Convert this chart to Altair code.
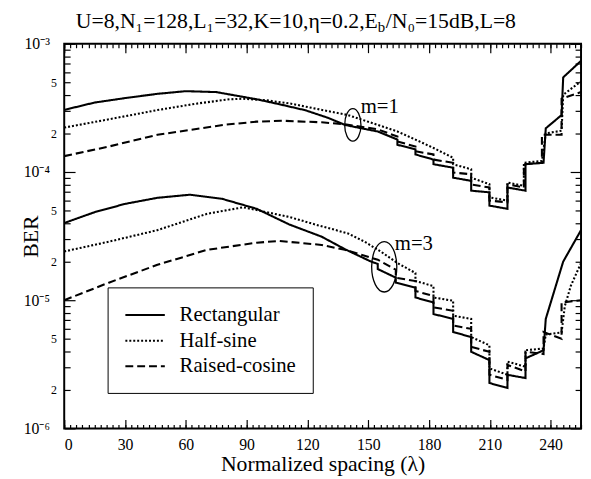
import altair as alt
import pandas as pd

FONT = "Liberation Serif"

# ---------------- data ----------------
SHAPES = ["Rectangular", "Half-sine", "Raised-cosine"]

# m = 1 group
RECT1_X = [0, 15, 30, 46, 60, 75, 95, 105, 119, 130, 138.5, 148, 154.7, 164.4, 164.4,
           173.3, 173.3, 182.2, 182.2, 191.9, 191.9, 200.8, 200.8, 209.8, 209.8, 218.7,
           218.7, 227.6, 227.6, 236.5, 237.6, 245.4, 246.2, 255]
RECT1_Y = [3.05e-4, 3.48e-4, 3.77e-4, 4.07e-4, 4.27e-4, 4.2e-4, 3.69e-4, 3.41e-4, 3.03e-4,
           2.65e-4, 2.33e-4, 2.17e-4, 2.07e-4, 1.79e-4, 1.63e-4, 1.50e-4, 1.37e-4, 1.25e-4,
           1.15e-4, 1.08e-4, 9.03e-5, 8.53e-5, 7.15e-5, 6.94e-5, 5.47e-5, 5.16e-5, 7.57e-5,
           7.15e-5, 1.15e-4, 1.18e-4, 2.19e-4, 2.78e-4, 5.47e-4, 7.36e-4]

HALF1_X = [0, 20, 46, 65, 81.6, 88, 100, 112, 124, 140, 154.7, 164.4, 173.3, 182.2, 191.9,
           191.9, 200.8, 200.8, 209.8, 209.8, 218.7, 218.7, 226.8, 226.8, 235.7, 237.6,
           245.4, 246.2, 255]
HALF1_Y = [2.22e-4, 2.54e-4, 3.04e-4, 3.41e-4, 3.69e-4, 3.73e-4, 3.62e-4, 3.41e-4, 3.12e-4,
           2.78e-4, 2.33e-4, 2.07e-4, 1.79e-4, 1.54e-4, 1.29e-4, 1.15e-4, 1.05e-4, 9.03e-5,
           8.03e-5, 6.34e-5, 5.98e-5, 8.28e-5, 7.8e-5, 1.18e-4, 1.22e-4, 2.0e-4, 2.1e-4,
           4.0e-4, 5.1e-4]

RC1_X = [0, 22, 46, 78.6, 95, 108, 127, 138.5, 154.7, 164.4, 164.4, 173.3, 173.3, 182.2,
         182.2, 191.9, 191.9, 200.8, 200.8, 209.8, 209.8, 218.7, 218.7, 226.8, 226.8, 235.7,
         235.7, 245.4, 245.4, 255]
RC1_Y = [1.33e-4, 1.58e-4, 1.95e-4, 2.33e-4, 2.47e-4, 2.51e-4, 2.44e-4, 2.36e-4, 2.15e-4,
         1.89e-4, 1.73e-4, 1.58e-4, 1.45e-4, 1.37e-4, 1.25e-4, 1.18e-4, 9.9e-5, 9.6e-5,
         8.0e-5, 7.57e-5, 5.98e-5, 5.8e-5, 8.0e-5, 7.57e-5, 1.15e-4, 1.18e-4, 1.95e-4,
         1.95e-4, 3.73e-4, 4.2e-4]

# m = 3 group
RECT3_X = [0, 15, 30, 46, 62, 78, 95, 111, 127, 138.5, 151.4, 154.7, 154.7, 163.6, 163.6,
           173.3, 173.3, 182.2, 182.2, 191.9, 191.9, 200.8, 200.8, 209.8, 209.8, 218.7,
           218.7, 227.6, 227.6, 236.5, 237.6, 246.2, 255]
RECT3_Y = [4.0e-5, 4.86e-5, 5.64e-5, 6.29e-5, 6.65e-5, 6.17e-5, 5.16e-5, 3.9e-5, 3.13e-5,
           2.5e-5, 2.0e-5, 1.92e-5, 1.75e-5, 1.5e-5, 1.37e-5, 1.25e-5, 1.05e-5, 9.6e-6,
           7.8e-6, 7.15e-6, 5.65e-6, 5.16e-6, 3.96e-6, 3.41e-6, 2.26e-6, 2.07e-6, 2.62e-6,
           2.47e-6, 3.52e-6, 4.07e-6, 7.15e-6, 2.0e-5, 3.52e-5]

HALF3_X = [0, 22, 46, 70.5, 88.3, 111, 125, 140, 148.2, 156.3, 164.4, 173.3, 173.3, 182.2,
           182.2, 191.9, 191.9, 200.8, 200.8, 209.8, 209.8, 218.7, 218.7, 227.6, 227.6,
           236.5, 237.6, 245.4, 247, 250, 255]
HALF3_Y = [2.4e-5, 2.86e-5, 3.52e-5, 4.72e-5, 5.31e-5, 4.46e-5, 3.85e-5, 3.32e-5, 2.86e-5,
           2.39e-5, 1.95e-5, 1.63e-5, 1.41e-5, 1.29e-5, 1.05e-5, 9.9e-6, 7.57e-6, 7.15e-6,
           5.16e-6, 4.45e-6, 2.94e-6, 2.62e-6, 3.32e-6, 3.03e-6, 4.07e-6, 4.2e-6, 5.4e-6,
           5.6e-6, 9.0e-6, 1.3e-5, 1.95e-5]

RC3_X = [0, 22, 46, 70.5, 95, 106, 127, 138.5, 154.7, 163.6, 163.6, 173.3, 173.3, 182.2,
         182.2, 191.9, 191.9, 200.8, 200.8, 209.8, 209.8, 218.7, 218.7, 227.6, 227.6, 236.5,
         236.5, 245.4, 245.4, 255]
RC3_Y = [1.0e-5, 1.37e-5, 1.89e-5, 2.47e-5, 2.81e-5, 2.9e-5, 2.7e-5, 2.47e-5, 2.07e-5,
         1.73e-5, 1.5e-5, 1.41e-5, 1.18e-5, 1.08e-5, 8.8e-6, 8.27e-6, 6.34e-6, 5.98e-6,
         4.32e-6, 3.96e-6, 2.62e-6, 2.39e-6, 3.13e-6, 2.78e-6, 3.96e-6, 3.8e-6, 5.65e-6,
         5.0e-6, 9.6e-6, 1.0e-5]

# annotations (data coordinates)
ANN_TEXT = ["m=1", "m=3"]
ANN_X = [146.3, 163.1]
ANN_Y = [2.86e-4, 2.47e-5]
ELL_X = [142.4, 157.9]
ELL_Y = [2.33e-4, 1.82e-5]

# axis ticks
X_LABELS = [0, 30, 60, 90, 120, 150, 180, 210, 240]
X_MINOR = list(range(0, 256, 3))
Y_DECADES = [1e-6, 1e-5, 1e-4, 1e-3]
Y_MIDS = [2e-6, 5e-6, 2e-5, 5e-5, 2e-4, 5e-4]
Y_MINOR = [m * 10.0 ** e for e in (-6, -5, -4) for m in range(2, 10)]

TITLE_LEFT = "U=8,N\u2081=128,L\u2081=32,K=10,\u03b7=0.2,E"
TITLE_SUB = "b"
TITLE_RIGHT = "/N\u2080=15dB,L=8"

# ---------------- build table ----------------
curves = [
    ("Rectangular", "m=1", RECT1_X, RECT1_Y),
    ("Half-sine", "m=1", HALF1_X, HALF1_Y),
    ("Raised-cosine", "m=1", RC1_X, RC1_Y),
    ("Rectangular", "m=3", RECT3_X, RECT3_Y),
    ("Half-sine", "m=3", HALF3_X, HALF3_Y),
    ("Raised-cosine", "m=3", RC3_X, RC3_Y),
]
rows = []
for shape, m, xs, ys in curves:
    for i, (x, y) in enumerate(zip(xs, ys)):
        rows.append({"x": x, "ber": y, "shape": shape, "m": m, "i": i})
df = pd.DataFrame(rows)

W, H = 524, 390
xscale = alt.Scale(domain=[0, 255], nice=False, zero=False)
yscale = alt.Scale(type="log", domain=[1e-6, 1e-3], nice=False)

legend = alt.Legend(
    title=None, orient="none", legendX=44, legendY=247, direction="vertical",
    labelFont=FONT, labelFontSize=21, labelColor="black", labelOffset=24, labelLimit=300,
    symbolType="M-2,0L2,0", symbolSize=400, symbolOffset=10, symbolStrokeWidth=2,
    symbolStrokeColor="black",
    strokeColor="black", fillColor="white", padding=17, rowPadding=5, cornerRadius=0,
)

x_label_axis = alt.Axis(
    orient="bottom", values=X_LABELS, ticks=False, tickSize=0, domain=False, grid=False,
    labelFont=FONT, labelFontSize=16, labelColor="black", labelPadding=8,
    title="Normalized spacing (\u03bb)", titleFont=FONT, titleFontSize=22,
    titleFontWeight="normal", titleColor="black", titleY=43, titleBaseline="alphabetic",
)
y_label_axis = alt.Axis(
    orient="left", values=Y_DECADES, ticks=False, tickSize=0, domain=False, grid=False,
    labelFont=FONT, labelFontSize=16, labelColor="black", labelPadding=15,
    labelExpr="'10' + (datum.value < 5e-6 ? '\u207b\u2076' : datum.value < 5e-5 ? '\u207b\u2075' : datum.value < 5e-4 ? '\u207b\u2074' : '\u207b\u00b3')",
    title="BER", titleFont=FONT, titleFontSize=22, titleFontWeight="normal",
    titleColor="black", titleAngle=270, titleX=-27, titleY=H / 2,
    titleAlign="center", titleBaseline="alphabetic",
)
y_mid_axis = alt.Axis(
    orient="left", values=Y_MIDS, ticks=False, tickSize=0, domain=False, grid=False,
    labelFont=FONT, labelFontSize=12, labelColor="black", labelPadding=8,
    labelExpr="datum.value < 3e-6 ? '2' : datum.value < 8e-6 ? '5' : datum.value < 3e-5 ? '2' : datum.value < 8e-5 ? '5' : datum.value < 3e-4 ? '2' : '5'",
    title=None,
)


def tick_axis(orient, values, size, offset):
    return alt.Axis(orient=orient, offset=offset, values=values, labels=False,
                    domain=False, grid=False, ticks=True, tickSize=size,
                    tickColor="black", tickWidth=1.2, title=None)


lines = alt.Chart(df).mark_line(color="black", strokeWidth=2.1).encode(
    x=alt.X("x:Q", scale=xscale, axis=x_label_axis),
    y=alt.Y("ber:Q", scale=yscale, axis=y_label_axis),
    strokeDash=alt.StrokeDash(
        "shape:N", legend=legend,
        scale=alt.Scale(domain=SHAPES, range=[[1, 0], [2, 2], [8, 4]]),
        sort=SHAPES,
    ),
    detail="m:N",
    order=alt.Order("i:Q"),
)

dummy = pd.DataFrame({"x": [0, 255], "ber": [1e-6, 1e-3]})


def axis_layer(xa, ya):
    return alt.Chart(dummy).mark_point(opacity=0).encode(
        x=alt.X("x:Q", scale=xscale, axis=xa),
        y=alt.Y("ber:Q", scale=yscale, axis=ya),
    )


ax1 = axis_layer(tick_axis("top", X_LABELS, 9, -H), y_mid_axis)
ax2 = axis_layer(tick_axis("top", X_MINOR, 4, -H), tick_axis("right", Y_DECADES, 11, -W))
ax3 = axis_layer(tick_axis("bottom", X_LABELS, 9, -H), tick_axis("right", Y_MINOR, 6, -W))
ax4 = axis_layer(tick_axis("bottom", X_MINOR, 4, -H), tick_axis("left", Y_DECADES, 11, -W))
ax5 = axis_layer(None, tick_axis("left", Y_MINOR, 6, -W))

ann_df = pd.DataFrame({"t": ANN_TEXT, "x": ANN_X, "y": ANN_Y})
ann = alt.Chart(ann_df).mark_text(
    font=FONT, fontSize=21, align="left", baseline="alphabetic", color="black"
).encode(
    x=alt.X("x:Q", scale=xscale, axis=None),
    y=alt.Y("y:Q", scale=yscale, axis=None),
    text="t:N",
)

ELLIPSE = "M0,-1A0.5,1 0 1,1 0,1A0.5,1 0 1,1 0,-1Z"


def ellipse_layer(k, size):
    d = pd.DataFrame({"x": [ELL_X[k]], "y": [ELL_Y[k]]})
    return alt.Chart(d).mark_point(
        shape=ELLIPSE, size=size, filled=False, color="black", strokeWidth=1.3, opacity=1
    ).encode(
        x=alt.X("x:Q", scale=xscale, axis=None),
        y=alt.Y("y:Q", scale=yscale, axis=None),
    )


ell1 = ellipse_layer(0, 1089)
ell3 = ellipse_layer(1, 2601)

one = pd.DataFrame({"a": [0]})
t_left = alt.Chart(one).mark_text(
    text=TITLE_LEFT, font=FONT, fontSize=22, align="right", baseline="alphabetic", color="black"
).encode(x=alt.value(318), y=alt.value(-16))
t_sub = alt.Chart(one).mark_text(
    text=TITLE_SUB, font=FONT, fontSize=15, align="left", baseline="alphabetic", color="black"
).encode(x=alt.value(318), y=alt.value(-12))
t_right = alt.Chart(one).mark_text(
    text=TITLE_RIGHT, font=FONT, fontSize=22, align="left", baseline="alphabetic", color="black"
).encode(x=alt.value(326), y=alt.value(-16))

chart = alt.layer(
    ax1, ax2, ax3, ax4, ax5, lines, ell1, ell3, ann, t_left, t_sub, t_right
).resolve_axis(x="independent", y="independent").properties(
    width=W, height=H,
    autosize=alt.AutoSizeParams(type="none"),
    padding={"left": 57, "top": 33, "right": 2, "bottom": 48},
    background="white",
).configure_view(stroke="black", strokeWidth=2)

chart.save("out.html", embed_options={"renderer": "svg", "actions": False})
